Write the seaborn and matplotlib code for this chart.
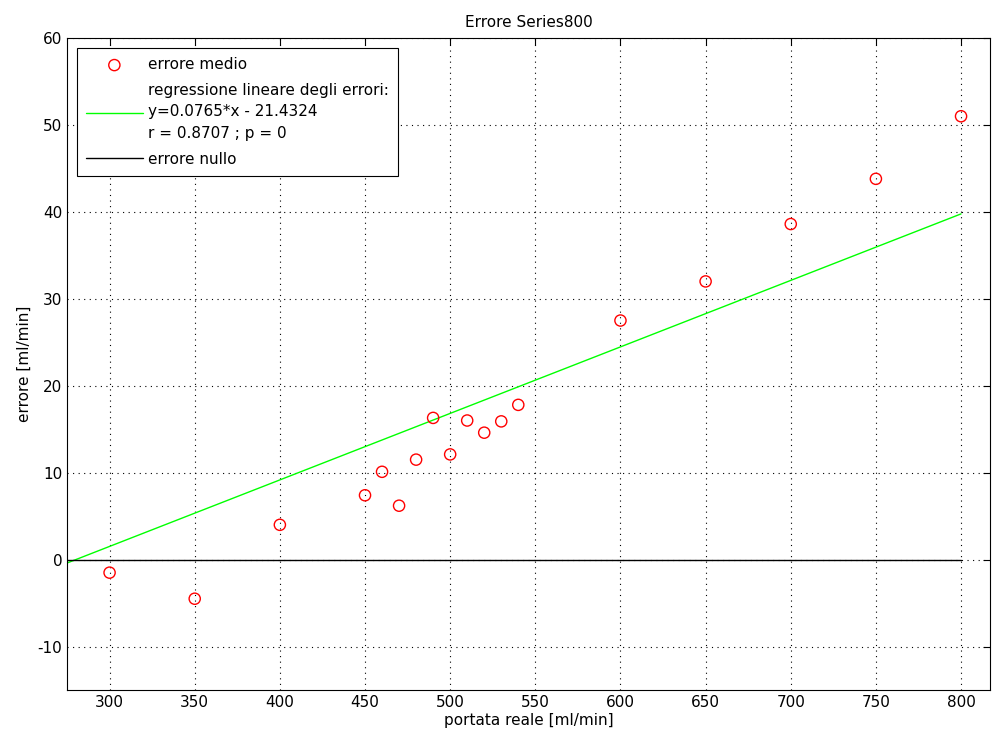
import matplotlib
matplotlib.use("Agg")
import matplotlib.pyplot as plt
import seaborn as sns
import numpy as np
import pandas as pd

portata = [300, 350, 400, 450, 460, 470, 480, 490, 500, 510, 520, 530, 540, 600, 650, 700, 750, 800]
errore = [-1.5, -4.5, 4.0, 7.4, 10.1, 6.2, 11.5, 16.3, 12.1, 16.0, 14.6, 15.9, 17.8, 27.5, 32.0, 38.6, 43.8, 51.0]
slope = 0.0765
intercept = -21.4324
line_x = [275, 800]
xticks = [300, 350, 400, 450, 500, 550, 600, 650, 700, 750, 800]
yticks = [-10, 0, 10, 20, 30, 40, 50, 60]

sns.set_style("white")
plt.rcParams['font.family'] = ['DejaVu Sans']
plt.rcParams['font.size'] = 11
plt.rcParams['axes.unicode_minus'] = False
plt.rcParams['text.color'] = 'black'
plt.rcParams['axes.labelcolor'] = 'black'
plt.rcParams['xtick.color'] = 'black'
plt.rcParams['ytick.color'] = 'black'

fig = plt.figure(figsize=(9.93, 7.42), dpi=100)
ax = fig.add_axes([67/993, 1-690/742, (990-67)/993, (690-38)/742])

df = pd.DataFrame({"x": portata, "y": errore})
reg = pd.DataFrame({"x": line_x, "y": [slope * v + intercept for v in line_x]})
zero = pd.DataFrame({"x": line_x, "y": [0, 0]})

sns.scatterplot(data=df, x="x", y="y", ax=ax, marker="o", s=65,
                facecolors="none", edgecolor="#ff0000", linewidth=1.0,
                label="errore medio", zorder=3)
sns.lineplot(data=reg, x="x", y="y", ax=ax, color="#00ff00", linewidth=1.0,
             label="regressione lineare degli errori:\ny=0.0765*x - 21.4324\nr = 0.8707 ; p = 0")
sns.lineplot(data=zero, x="x", y="y", ax=ax, color="black", linewidth=1.0,
             label="errore nullo")

ax.set_xlim(275, 817)
ax.set_ylim(-15, 60)
ax.set_xticks(xticks)
ax.set_yticks(yticks)
ax.grid(True, linestyle=(0, (1, 4)), color="black", linewidth=0.8)
ax.tick_params(direction="in", top=True, right=True, length=5, labelsize=11)
for s in ax.spines.values():
    s.set_color("black")
    s.set_linewidth(0.8)
ax.set_xlabel("portata reale [ml/min]", fontsize=11, labelpad=2)
ax.set_ylabel("errore [ml/min]", fontsize=11)
ax.set_title("Errore Series800", fontsize=11, pad=8)

leg = ax.legend(loc="upper left", frameon=True, fancybox=False, fontsize=11,
                edgecolor="black", framealpha=1, borderaxespad=0.65,
                handlelength=3.7, handletextpad=0.35, labelspacing=0.7,
                borderpad=0.6)
for t in leg.get_texts():
    t.set_linespacing(1.55)
leg.get_frame().set_linewidth(0.8)

fig.savefig("out.png", dpi=100, facecolor="white")
